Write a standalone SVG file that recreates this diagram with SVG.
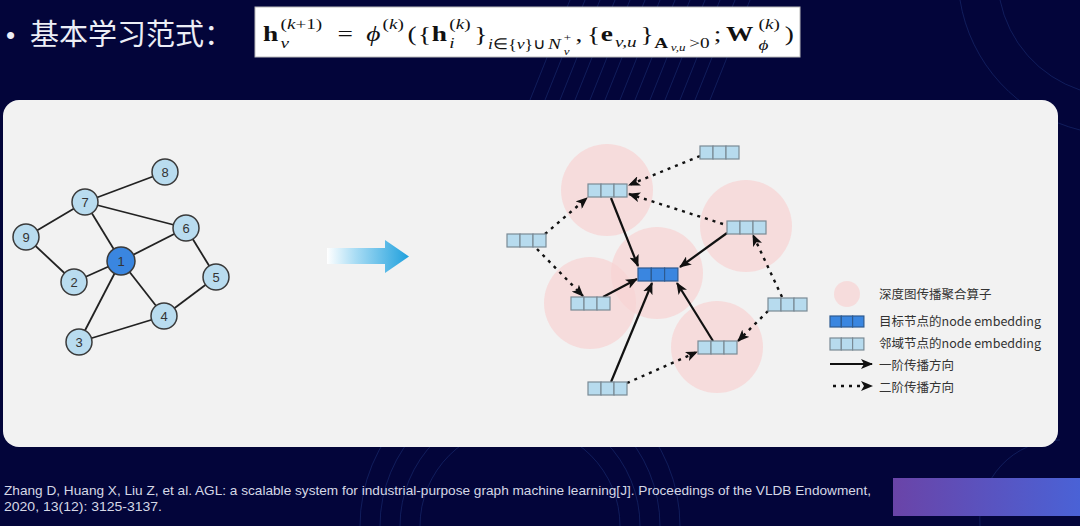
<svg xmlns="http://www.w3.org/2000/svg" xmlns:xlink="http://www.w3.org/1999/xlink" width="1080" height="526" viewBox="0 0 1080 526">
<defs>
<style>
.bg-line{fill:none;stroke:#2a4a9a;stroke-width:1;opacity:0.35}
.edge{stroke:#222;stroke-width:1.8}
.gnode{fill:#b9dcef;stroke:#3a3a3a;stroke-width:1.5}
.gnode1{fill:#3a86e0;stroke:#3a3a3a;stroke-width:1.5}
.glabel{font-family:"Liberation Sans",Arial,sans-serif;font-size:13px;fill:#333;text-anchor:middle}
.cellN{fill:#b7dbee;stroke:#7a8a95;stroke-width:1.2}
.cellT{fill:#3a86e0;stroke:#2d5a90;stroke-width:1.2}
.agg{fill:#f8d3d3;opacity:0.7}
.solid{stroke:#111;stroke-width:2.2;fill:none}
.dash{stroke:#111;stroke-width:2.4;fill:none;stroke-dasharray:3 5}
.leg{font-family:"Noto Sans CJK SC","Noto Sans",sans-serif;font-size:12.5px;fill:#333}
.m{font-family:"Liberation Serif","Times New Roman",serif;fill:#111}
.mb{font-weight:bold}
.mi{font-style:italic}
.s1{font-size:22px}
.s2{font-size:15.4px}
.s3{font-size:10.5px}
.cite{font-family:"Liberation Sans",Arial,sans-serif;font-size:13.5px;fill:#d5d8e6}
</style>
<marker id="ah" viewBox="0 0 12 10" markerWidth="12" markerHeight="10" refX="11" refY="5" orient="auto" markerUnits="userSpaceOnUse">
<path d="M0,0 L12,5 L0,10 L3,5 Z" fill="#111"/>
</marker>
<linearGradient id="arrowGrad" x1="327" y1="0" x2="409" y2="0" gradientUnits="userSpaceOnUse">
<stop offset="0" stop-color="#ffffff"/>
<stop offset="0.35" stop-color="#a8dcf4"/>
<stop offset="1" stop-color="#1fa0dd"/>
</linearGradient>
<linearGradient id="barGrad" x1="0" y1="0" x2="1" y2="0">
<stop offset="0" stop-color="#6a44a8"/>
<stop offset="1" stop-color="#4a62d6"/>
</linearGradient>
<g id="vecN">
<rect class="cellN" x="0" y="0" width="13" height="13"/>
<rect class="cellN" x="13" y="0" width="13" height="13"/>
<rect class="cellN" x="26" y="0" width="13" height="13"/>
</g>
<g id="vecT">
<rect class="cellT" x="0" y="0" width="13.3" height="13"/>
<rect class="cellT" x="13.3" y="0" width="13.3" height="13"/>
<rect class="cellT" x="26.6" y="0" width="13.3" height="13"/>
</g>
</defs>

<rect width="1080" height="526" fill="#03053a"/>
<g id="background-texture">
<path class="bg-line" d="M560,100 L600,0 M575,100 L615,0 M590,100 L630,0 M605,100 L645,0 M620,100 L660,0 M635,100 L675,0 M650,100 L690,0 M665,100 L705,0 M680,100 L720,0 M695,100 L735,0 M710,100 L750,0 M545,100 L585,0 M530,100 L570,0"/>
<path class="bg-line" d="M380,526 A140,140 0 0 1 660,526 M400,526 A120,120 0 0 1 640,526 M420,526 A100,100 0 0 1 620,526 M360,526 A160,160 0 0 1 680,526"/>
<path class="bg-line" d="M1000,0 A120,120 0 0 0 1080,90 M960,0 A160,160 0 0 0 1080,130 M1060,440 A80,80 0 0 0 980,526"/>
</g>

<g id="title">
<text x="6" y="44" font-family="Liberation Sans,Arial,sans-serif" font-size="26" fill="#eceef6">•</text>
<text x="30" y="45" font-family="Noto Sans CJK SC,Noto Sans,sans-serif" font-size="29" fill="#eceef6">基本学习范式：</text>
</g>

<g id="formula">
<rect x="255" y="7" width="545" height="50" fill="#ffffff" stroke="#bbbbbb" stroke-width="1"/>
<g transform="translate(263,0) scale(1.245,1)">
<text class="m mb s1" x="0" y="41">h</text>
<text class="m s2" x="14.1" y="29">(<tspan class="mi">k</tspan>+1)</text>
<text class="m mi s2" x="14.1" y="48">v</text>
<text class="m s1" x="59.8" y="41">=</text>
<text class="m mi s1" x="82.9" y="41">ϕ</text>
<text class="m s2" x="96" y="29">(<tspan class="mi">k</tspan>)</text>
<text class="m s1" x="116.1" y="41">(</text>
<text class="m s1" x="124.6" y="41">{</text>
<text class="m mb s1" x="135.6" y="41">h</text>
<text class="m s2" x="149.7" y="29">(<tspan class="mi">k</tspan>)</text>
<text class="m mi s2" x="149.7" y="48">i</text>
<text class="m s1" x="169.7" y="41">}</text>
<text class="m s2" x="180.7" y="49" textLength="46" lengthAdjust="spacingAndGlyphs"><tspan class="mi">i</tspan>∈{<tspan class="mi">v</tspan>}∪</text>
<text class="m mi s2" x="229" y="49">N</text>
<text class="m mi s3" x="241.5" y="55">v</text>
<text class="m s3" x="241.5" y="41">+</text>
<text class="m s1" x="251" y="41">,</text>
<text class="m s1" x="260.2" y="41">{</text>
<text class="m mb s1" x="271.2" y="41">e</text>
<text class="m mi s2" x="282.8" y="47">v,u</text>
<text class="m s1" x="303.3" y="41">}</text>
<text class="m mb s2" x="314.3" y="48">A</text>
<text class="m mi s3" x="327.6" y="51">v,u</text>
<text class="m s2" x="342.4" y="48">&gt;0</text>
<text class="m s1" x="362" y="41">;</text>
<text class="m mb s1" x="371.8" y="41">W</text>
<text class="m s2" x="398" y="29">(<tspan class="mi">k</tspan>)</text>
<text class="m mi s2" x="398" y="50">ϕ</text>
<text class="m s1" x="419" y="41">)</text>
</g>
</g>

<rect id="panel" x="3" y="100" width="1055" height="347" rx="16" ry="16" fill="#f2f2f2"/>

<g id="graph-edges">
<line class="edge" x1="165" y1="172" x2="85" y2="202"/>
<line class="edge" x1="85" y1="202" x2="26" y2="237"/>
<line class="edge" x1="85" y1="202" x2="186" y2="228"/>
<line class="edge" x1="85" y1="202" x2="121" y2="261"/>
<line class="edge" x1="26" y1="237" x2="74" y2="282"/>
<line class="edge" x1="74" y1="282" x2="121" y2="261"/>
<line class="edge" x1="121" y1="261" x2="186" y2="228"/>
<line class="edge" x1="186" y1="228" x2="216" y2="277"/>
<line class="edge" x1="216" y1="277" x2="164" y2="316"/>
<line class="edge" x1="121" y1="261" x2="164" y2="316"/>
<line class="edge" x1="121" y1="261" x2="79" y2="342"/>
<line class="edge" x1="79" y1="342" x2="164" y2="316"/>
</g>
<g id="gnode-8"><circle class="gnode" cx="165" cy="172" r="13"/><text class="glabel" x="165" y="177">8</text></g>
<g id="gnode-7"><circle class="gnode" cx="85" cy="202" r="13"/><text class="glabel" x="85" y="207">7</text></g>
<g id="gnode-9"><circle class="gnode" cx="26" cy="237" r="13"/><text class="glabel" x="26" y="242">9</text></g>
<g id="gnode-6"><circle class="gnode" cx="186" cy="228" r="13"/><text class="glabel" x="186" y="233">6</text></g>
<g id="gnode-1"><circle class="gnode1" cx="121" cy="261" r="14"/><text class="glabel" x="121" y="266">1</text></g>
<g id="gnode-2"><circle class="gnode" cx="74" cy="282" r="13"/><text class="glabel" x="74" y="287">2</text></g>
<g id="gnode-5"><circle class="gnode" cx="216" cy="277" r="13"/><text class="glabel" x="216" y="282">5</text></g>
<g id="gnode-4"><circle class="gnode" cx="164" cy="316" r="13"/><text class="glabel" x="164" y="321">4</text></g>
<g id="gnode-3"><circle class="gnode" cx="79" cy="342" r="13"/><text class="glabel" x="79" y="347">3</text></g>

<g id="big-arrow">
<path d="M327,248 H385 V240 L409,256.5 L385,273 V264 H327 Z" fill="url(#arrowGrad)"/>
</g>

<g id="aggregators">
<circle class="agg" cx="607" cy="190" r="46"/>
<circle class="agg" cx="746" cy="226" r="46"/>
<circle class="agg" cx="657" cy="273" r="46"/>
<circle class="agg" cx="590" cy="303" r="46"/>
<circle class="agg" cx="717" cy="347" r="46"/>
</g>

<g id="connectors">
<line class="solid" x1="611" y1="198" x2="638" y2="266" marker-end="url(#ah)"/>
<line class="solid" x1="727" y1="233" x2="680" y2="267" marker-end="url(#ah)"/>
<line class="solid" x1="603" y1="297" x2="637" y2="279" marker-end="url(#ah)"/>
<line class="solid" x1="611" y1="382" x2="652" y2="283" marker-end="url(#ah)"/>
<line class="solid" x1="713" y1="341" x2="677" y2="283" marker-end="url(#ah)"/>
<line class="dash" x1="700" y1="156" x2="629" y2="185" marker-end="url(#ah)"/>
<line class="dash" x1="723" y1="224" x2="629" y2="194" marker-end="url(#ah)"/>
<line class="dash" x1="545" y1="234" x2="587" y2="198" marker-end="url(#ah)"/>
<line class="dash" x1="537" y1="249" x2="583" y2="296" marker-end="url(#ah)"/>
<line class="dash" x1="782" y1="297" x2="753" y2="235" marker-end="url(#ah)"/>
<line class="dash" x1="768" y1="311" x2="738" y2="341" marker-end="url(#ah)"/>
<line class="dash" x1="627" y1="383" x2="697" y2="352" marker-end="url(#ah)"/>
</g>

<g id="vec-top"><use href="#vecN" x="700" y="146"/></g>
<g id="vec-a"><use href="#vecN" x="588" y="184"/></g>
<g id="vec-farleft"><use href="#vecN" x="507" y="234"/></g>
<g id="vec-b"><use href="#vecN" x="727" y="221"/></g>
<g id="vec-target"><use href="#vecT" x="638" y="268"/></g>
<g id="vec-c"><use href="#vecN" x="571" y="297"/></g>
<g id="vec-farright"><use href="#vecN" x="768" y="298"/></g>
<g id="vec-d"><use href="#vecN" x="698" y="341"/></g>
<g id="vec-bottom"><use href="#vecN" x="588" y="382"/></g>

<g id="legend">
<circle class="agg" cx="847" cy="294" r="13"/>
<text class="leg" x="879" y="299">深度图传播聚合算子</text>
<rect class="cellT" x="830" y="316" width="11.3" height="11"/>
<rect class="cellT" x="841.3" y="316" width="11.3" height="11"/>
<rect class="cellT" x="852.6" y="316" width="11.3" height="11"/>
<text class="leg" x="879" y="326">目标节点的node embedding</text>
<rect class="cellN" x="830" y="338" width="11.3" height="12"/>
<rect class="cellN" x="841.3" y="338" width="11.3" height="12"/>
<rect class="cellN" x="852.6" y="338" width="11.3" height="12"/>
<text class="leg" x="879" y="348">邻域节点的node embedding</text>
<line class="solid" x1="830" y1="364" x2="872" y2="364" marker-end="url(#ah)"/>
<text class="leg" x="879" y="370">一阶传播方向</text>
<line class="dash" x1="833" y1="386" x2="872" y2="386" marker-end="url(#ah)"/>
<text class="leg" x="879" y="392">二阶传播方向</text>
</g>

<g id="citation">
<text class="cite" x="4" y="495" textLength="867" lengthAdjust="spacingAndGlyphs">Zhang D, Huang X, Liu Z, et al. AGL: a scalable system for industrial-purpose graph machine learning[J]. Proceedings of the VLDB Endowment,</text>
<text class="cite" x="4" y="511" textLength="158" lengthAdjust="spacingAndGlyphs">2020, 13(12): 3125-3137.</text>
</g>
<rect id="corner-bar" x="893" y="478" width="187" height="38" fill="url(#barGrad)"/>
</svg>
